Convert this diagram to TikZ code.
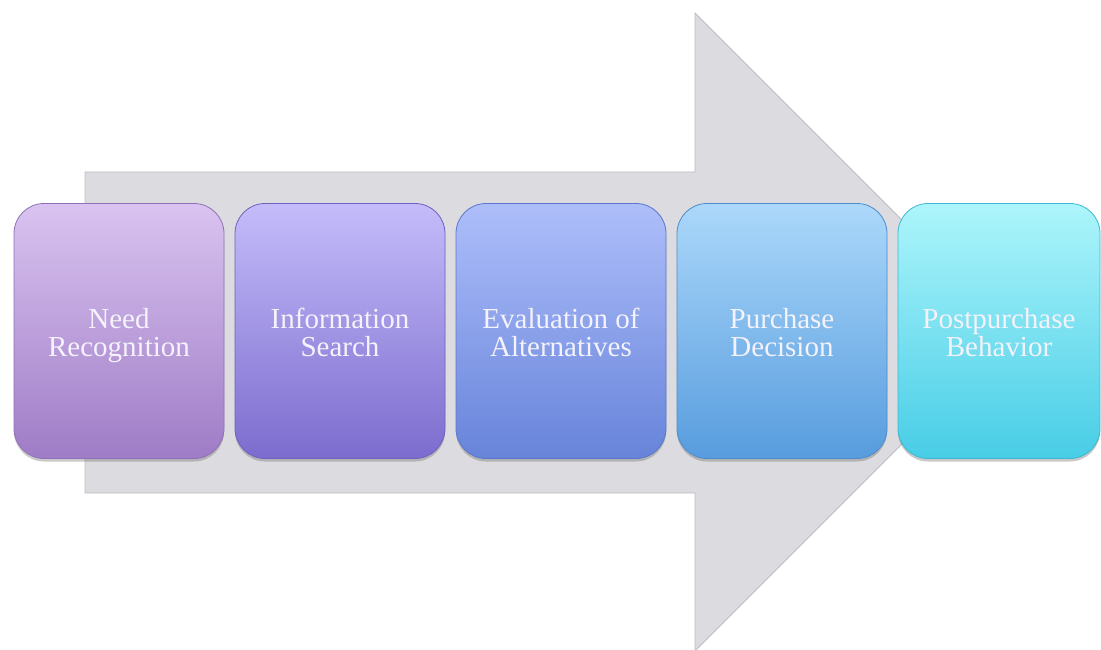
\documentclass[tikz,border=0pt]{standalone}
\usepackage{fontspec}
\setmainfont{Liberation Serif}
\usetikzlibrary{shadows}
\definecolor{arrowfill}{HTML}{DCDBE0}
\definecolor{arrowedge}{HTML}{BEBDC2}
\definecolor{txt}{HTML}{F4F2FA}
\definecolor{t1}{HTML}{D9C3F0}\definecolor{b1}{HTML}{9F7CC6}\definecolor{e1}{HTML}{9070B8}
\definecolor{t2}{HTML}{C4BCFA}\definecolor{b2}{HTML}{7C6CCE}\definecolor{e2}{HTML}{6E60C0}
\definecolor{t3}{HTML}{AEBEFA}\definecolor{b3}{HTML}{6784DA}\definecolor{e3}{HTML}{5A76CC}
\definecolor{t4}{HTML}{ACD8FA}\definecolor{b4}{HTML}{579CDE}\definecolor{e4}{HTML}{4C8CCC}
\definecolor{t5}{HTML}{ADF5FB}\definecolor{b5}{HTML}{48CDE6}\definecolor{e5}{HTML}{3CB8D2}
\newcommand\lnstrut{\rule[-10pt]{0pt}{42pt}}
\newcommand\twolines[2]{\lnstrut #1\\\lnstrut #2}
\newcommand\stagefont{\fontsize{29}{28}\selectfont\lineskiplimit=-100pt\relax\lineskip=0pt\relax}
\tikzset{
  stage/.style={rounded corners=30pt, minimum width=210pt, minimum height=255pt,
    inner sep=0pt, align=center, text=txt, line width=0.8pt,
    font=\stagefont,
    drop shadow={shadow xshift=0pt, shadow yshift=-3pt, opacity=0.35, fill=black!60}},
  bigarrow/.style={fill=arrowfill, draw=arrowedge, line width=0.8pt, line join=miter}
}
\begin{document}
\begin{tikzpicture}[x=1pt,y=-1pt]
\useasboundingbox (0,0) rectangle (1101,650);
\fill[white] (0,0) rectangle (1101,650);
% big background arrow
\coordinate (a1) at (85,172);
\coordinate (a2) at (695,172);
\coordinate (a3) at (695,13);
\coordinate (a4) at (1014,332);
\coordinate (a5) at (695,651);
\coordinate (a6) at (695,493);
\coordinate (a7) at (85,493);
\path[bigarrow] (a1) -- (a2) -- (a3) -- (a4) -- (a5) -- (a6) -- (a7) -- cycle;
% stages
\node[stage, top color=t1, bottom color=b1, draw=e1] (s1) at (119,331) {\twolines{Need}{Recognition}};
\node[stage, top color=t2, bottom color=b2, draw=e2] (s2) at (340,331) {\twolines{Information}{Search}};
\node[stage, top color=t3, bottom color=b3, draw=e3] (s3) at (561,331) {\twolines{Evaluation of}{Alternatives}};
\node[stage, top color=t4, bottom color=b4, draw=e4] (s4) at (782,331) {\twolines{Purchase}{Decision}};
\node[stage, minimum width=202pt, top color=t5, bottom color=b5, draw=e5] (s5) at (999,331) {\twolines{Postpurchase}{Behavior}};
\end{tikzpicture}
\end{document}
